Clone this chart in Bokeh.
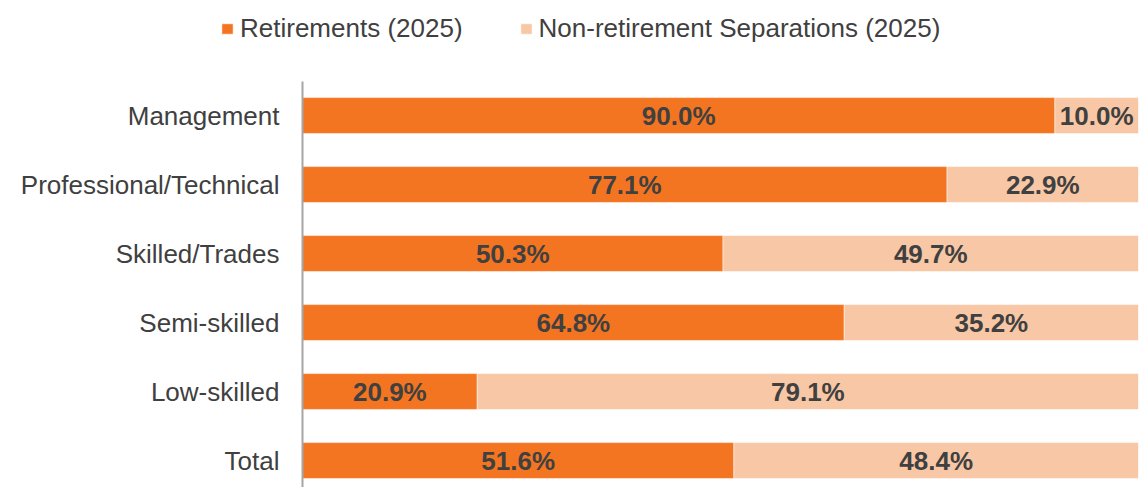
from bokeh.plotting import figure
from bokeh.layouts import column
from bokeh.models import Range1d, FixedTicker, Legend, LegendItem, ColumnDataSource
from bokeh.core.properties import value
from bokeh.embed import file_html
from bokeh.resources import INLINE

categories = ["Management", "Professional/Technical", "Skilled/Trades", "Semi-skilled", "Low-skilled", "Total"]
retirements = [90.0, 77.1, 50.3, 64.8, 20.9, 51.6]
non_retirement = [10.0, 22.9, 49.7, 35.2, 79.1, 48.4]
series_names = ["Retirements (2025)", "Non-retirement Separations (2025)"]

ORANGE = "#F47521"
LIGHT = "#F8C7A5"
TEXT = "#404040"
FONT = "Liberation Sans"
FS = "26px"

pos = list(range(len(categories)))
src = ColumnDataSource(dict(
    y=pos,
    r_end=retirements,
    n_end=[a + b for a, b in zip(retirements, non_retirement)],
    r_mid=[a / 2 for a in retirements],
    n_mid=[a + b / 2 for a, b in zip(retirements, non_retirement)],
    r_lab=[f"{a:.1f}%" for a in retirements],
    n_lab=[f"{b:.1f}%" for b in non_retirement],
))

# ---- main chart ----
p = figure(width=1140, height=414, output_backend="svg", toolbar_location=None,
           x_range=Range1d(0, 100), y_range=Range1d(5.391, -0.609),
           min_border_left=302, min_border_right=2, min_border_top=0, min_border_bottom=0)
p.frame_align = False
p.outline_line_color = None
p.background_fill_color = "white"
p.border_fill_color = "white"
p.grid.visible = False

bar_kw = dict(height=0.52, source=src, line_color="white", line_width=0.5)
r1 = p.hbar(y="y", left=0, right="r_end", fill_color=ORANGE, **bar_kw)
r2 = p.hbar(y="y", left="r_end", right="n_end", fill_color=LIGHT, **bar_kw)

txt_kw = dict(y="y", source=src, text_align="center", text_baseline="middle",
              text_font=value(FONT), text_font_style="bold", text_font_size=FS, text_color=TEXT)
p.text(x="r_mid", text="r_lab", **txt_kw)
p.text(x="n_mid", text="n_lab", **txt_kw)

p.xaxis.visible = False
yax = p.yaxis[0]
yax.ticker = FixedTicker(ticks=pos)
yax.bounds = (-0.493, 5.391)
yax.major_label_overrides = {i: c for i, c in enumerate(categories)}
yax.major_tick_line_color = None
yax.minor_tick_line_color = None
yax.axis_line_color = "#A6A6A6"
yax.axis_line_width = 2
yax.major_label_text_font = FONT
yax.major_label_text_font_size = FS
yax.major_label_text_color = TEXT
yax.major_label_standoff = 17

# ---- legend strip (same series, drawn far outside its visible ranges) ----
lf = figure(width=1140, height=73, output_backend="svg", toolbar_location=None,
            x_range=Range1d(1000, 1100), y_range=Range1d(1000, 1001),
            min_border_left=0, min_border_right=0, min_border_top=0, min_border_bottom=0)
lf.frame_align = False
lf.outline_line_color = None
lf.axis.visible = False
lf.grid.visible = False
l1 = lf.hbar(y="y", left=0, right="r_end", fill_color=ORANGE, **bar_kw)
l2 = lf.hbar(y="y", left="r_end", right="n_end", fill_color=LIGHT, **bar_kw)

legend = Legend(items=[LegendItem(label=series_names[0], renderers=[l1]),
                       LegendItem(label=series_names[1], renderers=[l2])],
                orientation="horizontal", location=(220, 29),
                label_text_font=FONT, label_text_font_size=FS, label_text_color=TEXT,
                glyph_width=14, glyph_height=13, label_standoff=6, spacing=56,
                border_line_color=None, background_fill_alpha=0, margin=0, padding=0)
lf.add_layout(legend, "center")

layout = column(lf, p, spacing=0)
open("out.html", "w").write(file_html(layout, INLINE))
